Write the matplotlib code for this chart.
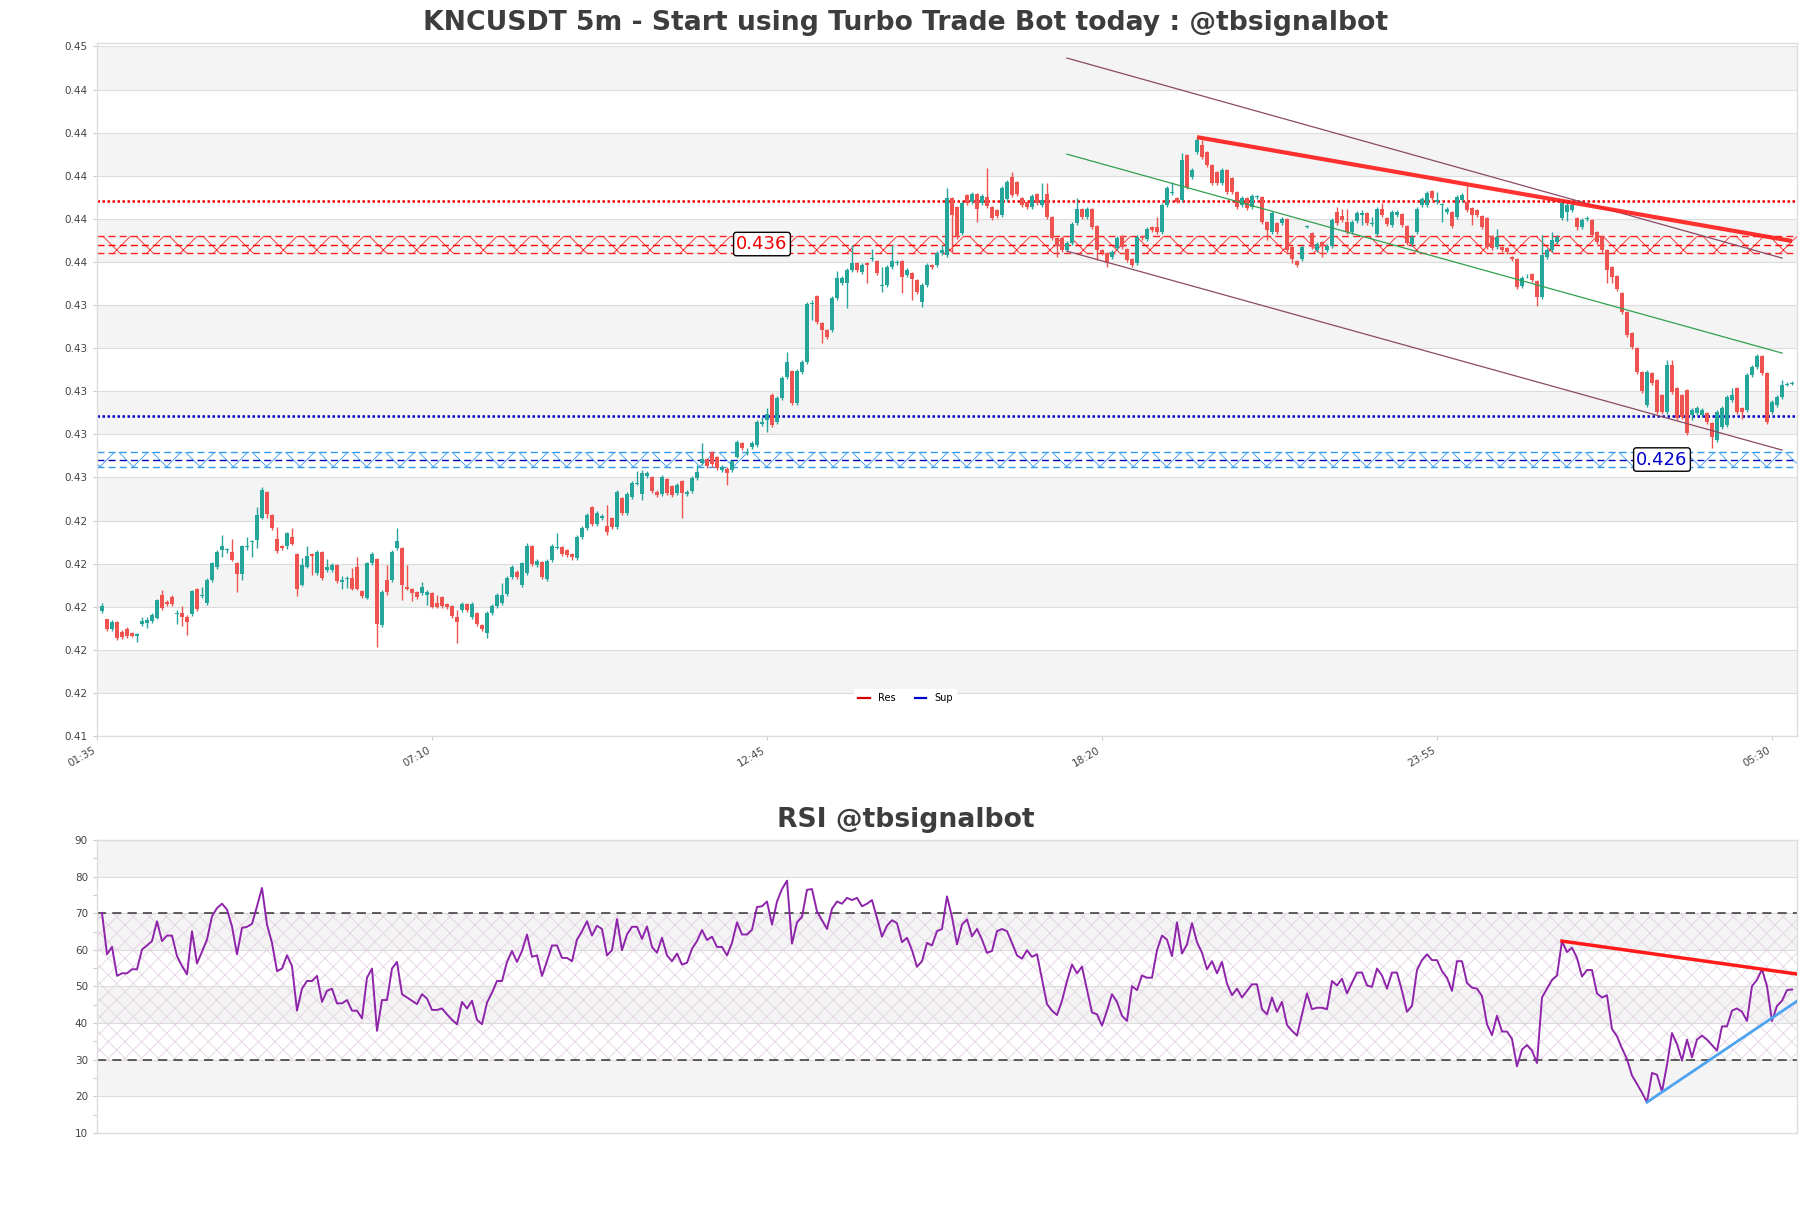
#!/usr/bin/env python3
from __future__ import annotations

import matplotlib

matplotlib.use("Agg")
import matplotlib.pyplot as plt
import numpy as np
from matplotlib.lines import Line2D
from matplotlib.ticker import FormatStrFormatter, MultipleLocator


TITLE = "KNCUSDT 5m - Start using Turbo Trade Bot today : @tbsignalbot"
RSI_TITLE = "RSI @tbsignalbot"

TIME_TICKS = [0, 67, 134, 201, 268, 335]
TIME_LABELS = ["01:35", "07:10", "12:45", "18:20", "23:55", "05:30"]

OPENS = [
    0.41897, 0.41860, 0.41813, 0.41846, 0.41800, 0.41813, 0.41795, 0.41781, 0.41836, 0.41841,
    0.41850, 0.41865, 0.41971, 0.41939, 0.41962, 0.41883, 0.41888, 0.41870, 0.41883, 0.41999,
    0.41966, 0.41934, 0.42041, 0.42102, 0.42180, 0.42180, 0.42171, 0.42120, 0.42068, 0.42194,
    0.42217, 0.42226, 0.42329, 0.42449, 0.42343, 0.42231, 0.42198, 0.42198, 0.42240, 0.42161,
    0.42018, 0.42102, 0.42161, 0.42073, 0.42171, 0.42087, 0.42087, 0.42110, 0.42032, 0.42046,
    0.42050, 0.42102, 0.41990, 0.41957, 0.42120, 0.42138, 0.41832, 0.42041, 0.42041, 0.42189,
    0.42189, 0.42008, 0.41999, 0.41985, 0.41980, 0.41971, 0.41980, 0.41934, 0.41962, 0.41930,
    0.41920, 0.41870, 0.41902, 0.41930, 0.41870, 0.41888, 0.41832, 0.41795, 0.41888, 0.41920,
    0.41934, 0.41976, 0.42055, 0.42078, 0.42018, 0.42073, 0.42198, 0.42110, 0.42125, 0.42046,
    0.42134, 0.42189, 0.42194, 0.42180, 0.42161, 0.42143, 0.42240, 0.42282, 0.42379, 0.42301,
    0.42329, 0.42291, 0.42329, 0.42287, 0.42421, 0.42352, 0.42426, 0.42486, 0.42440, 0.42523,
    0.42519, 0.42449, 0.42440, 0.42509, 0.42477, 0.42444, 0.42500, 0.42440, 0.42454, 0.42514,
    0.42584, 0.42602, 0.42635, 0.42612, 0.42551, 0.42556, 0.42551, 0.42612, 0.42676, 0.42630,
    0.42658, 0.42667, 0.42764, 0.42783, 0.42899, 0.42774, 0.42885, 0.42983, 0.43010, 0.42862,
    0.43006, 0.43052, 0.43321, 0.43359, 0.43233, 0.43201, 0.43201, 0.43349, 0.43419, 0.43419,
    0.43479, 0.43512, 0.43470, 0.43512, 0.43530, 0.43521, 0.43405, 0.43410, 0.43493, 0.43512,
    0.43521, 0.43456, 0.43465, 0.43433, 0.43331, 0.43410, 0.43503, 0.43503, 0.43558, 0.43549,
    0.43813, 0.43772, 0.43651, 0.43827, 0.43795, 0.43831, 0.43790, 0.43818, 0.43772, 0.43758,
    0.43735, 0.43808, 0.43911, 0.43887, 0.43813, 0.43795, 0.43772, 0.43831, 0.43781, 0.43831,
    0.43725, 0.43628, 0.43628, 0.43572, 0.43604, 0.43697, 0.43762, 0.43725, 0.43762, 0.43684,
    0.43572, 0.43558, 0.43539, 0.43581, 0.43637, 0.43577, 0.43530, 0.43512, 0.43637, 0.43623,
    0.43679, 0.43679, 0.43656, 0.43781, 0.43836, 0.43813, 0.43804, 0.44012, 0.43911, 0.44027,
    0.44059, 0.44027, 0.43966, 0.43934, 0.43883, 0.43943, 0.43906, 0.43841, 0.43781, 0.43813,
    0.43772, 0.43818, 0.43818, 0.43702, 0.43656, 0.43697, 0.43697, 0.43716, 0.43586, 0.43521,
    0.43530, 0.43679, 0.43651, 0.43572, 0.43609, 0.43572, 0.43590, 0.43748, 0.43730, 0.43702,
    0.43656, 0.43707, 0.43735, 0.43744, 0.43693, 0.43646, 0.43762, 0.43721, 0.43688, 0.43735,
    0.43740, 0.43684, 0.43600, 0.43656, 0.43781, 0.43781, 0.43845, 0.43795, 0.43781, 0.43748,
    0.43748, 0.43725, 0.43804, 0.43795, 0.43767, 0.43758, 0.43730, 0.43721, 0.43637, 0.43586,
    0.43586, 0.43581, 0.43539, 0.43530, 0.43405, 0.43451, 0.43461, 0.43428, 0.43354, 0.43539,
    0.43572, 0.43609, 0.43721, 0.43748, 0.43758, 0.43721, 0.43679, 0.43716, 0.43711, 0.43656,
    0.43633, 0.43572, 0.43493, 0.43451, 0.43372, 0.43284, 0.43187, 0.43117, 0.43006, 0.42853,
    0.43001, 0.42969, 0.42899, 0.42820, 0.43038, 0.42932, 0.42899, 0.42922, 0.42806, 0.42816,
    0.42806, 0.42816, 0.42769, 0.42690, 0.42751, 0.42760, 0.42876, 0.42932, 0.42839, 0.42830,
    0.42992, 0.43029, 0.43080, 0.43001, 0.42820, 0.42853, 0.42890, 0.42946, 0.42950,
]

CLOSES = [
    0.41920, 0.41813, 0.41846, 0.41772, 0.41776, 0.41781, 0.41781, 0.41790, 0.41850, 0.41855,
    0.41879, 0.41948, 0.41911, 0.41930, 0.41930, 0.41888, 0.41870, 0.41846, 0.41990, 0.41906,
    0.41971, 0.42041, 0.42120, 0.42171, 0.42198, 0.42184, 0.42134, 0.42068, 0.42198, 0.42198,
    0.42222, 0.42343, 0.42458, 0.42348, 0.42282, 0.42175, 0.42189, 0.42259, 0.42208, 0.41999,
    0.42110, 0.42152, 0.42152, 0.42171, 0.42050, 0.42102, 0.42110, 0.42036, 0.42041, 0.42050,
    0.41999, 0.41999, 0.41966, 0.42120, 0.42161, 0.41836, 0.41985, 0.41985, 0.42171, 0.42222,
    0.42018, 0.41999, 0.41980, 0.41962, 0.42008, 0.41985, 0.41915, 0.41915, 0.41920, 0.41915,
    0.41874, 0.41846, 0.41930, 0.41902, 0.41930, 0.41836, 0.41813, 0.41888, 0.41920, 0.41971,
    0.41971, 0.42050, 0.42102, 0.42055, 0.42120, 0.42198, 0.42115, 0.42129, 0.42055, 0.42129,
    0.42198, 0.42194, 0.42161, 0.42157, 0.42148, 0.42240, 0.42282, 0.42343, 0.42301, 0.42352,
    0.42338, 0.42264, 0.42287, 0.42449, 0.42352, 0.42440, 0.42491, 0.42491, 0.42537, 0.42537,
    0.42454, 0.42435, 0.42519, 0.42444, 0.42435, 0.42482, 0.42444, 0.42449, 0.42514, 0.42542,
    0.42602, 0.42570, 0.42579, 0.42561, 0.42565, 0.42537, 0.42593, 0.42681, 0.42653, 0.42635,
    0.42676, 0.42774, 0.42774, 0.42811, 0.42760, 0.42885, 0.42978, 0.43052, 0.42862, 0.43010,
    0.43052, 0.43321, 0.43326, 0.43238, 0.43201, 0.43168, 0.43349, 0.43442, 0.43442, 0.43479,
    0.43512, 0.43479, 0.43503, 0.43503, 0.43535, 0.43465, 0.43410, 0.43493, 0.43521, 0.43516,
    0.43447, 0.43479, 0.43437, 0.43377, 0.43410, 0.43503, 0.43493, 0.43558, 0.43572, 0.43813,
    0.43735, 0.43633, 0.43790, 0.43790, 0.43831, 0.43762, 0.43822, 0.43776, 0.43721, 0.43730,
    0.43859, 0.43887, 0.43827, 0.43831, 0.43781, 0.43772, 0.43822, 0.43790, 0.43804, 0.43725,
    0.43628, 0.43590, 0.43572, 0.43604, 0.43693, 0.43762, 0.43725, 0.43762, 0.43679, 0.43572,
    0.43558, 0.43512, 0.43563, 0.43628, 0.43586, 0.43526, 0.43503, 0.43633, 0.43628, 0.43669,
    0.43665, 0.43656, 0.43781, 0.43860, 0.43841, 0.43795, 0.43989, 0.43864, 0.43943, 0.44082,
    0.44003, 0.43966, 0.43883, 0.43883, 0.43943, 0.43841, 0.43841, 0.43772, 0.43813, 0.43767,
    0.43822, 0.43818, 0.43702, 0.43665, 0.43744, 0.43656, 0.43716, 0.43572, 0.43530, 0.43503,
    0.43586, 0.43684, 0.43586, 0.43600, 0.43590, 0.43590, 0.43711, 0.43697, 0.43711, 0.43656,
    0.43702, 0.43744, 0.43744, 0.43697, 0.43693, 0.43762, 0.43735, 0.43693, 0.43748, 0.43748,
    0.43688, 0.43604, 0.43633, 0.43762, 0.43808, 0.43836, 0.43813, 0.43804, 0.43781, 0.43762,
    0.43684, 0.43818, 0.43827, 0.43758, 0.43735, 0.43735, 0.43679, 0.43586, 0.43581, 0.43633,
    0.43572, 0.43563, 0.43530, 0.43400, 0.43442, 0.43451, 0.43433, 0.43354, 0.43549, 0.43572,
    0.43618, 0.43633, 0.43790, 0.43781, 0.43781, 0.43679, 0.43711, 0.43721, 0.43642, 0.43609,
    0.43572, 0.43479, 0.43447, 0.43391, 0.43284, 0.43178, 0.43122, 0.43006, 0.42918, 0.43006,
    0.42955, 0.42820, 0.42820, 0.43038, 0.42913, 0.42793, 0.42797, 0.42723, 0.42830, 0.42839,
    0.42830, 0.42774, 0.42704, 0.42820, 0.42839, 0.42890, 0.42899, 0.42820, 0.42820, 0.42992,
    0.43029, 0.43080, 0.43001, 0.42774, 0.42867, 0.42890, 0.42946, 0.42950, 0.42955,
]

HIGHS = [
    0.41934, 0.41860, 0.41855, 0.41850, 0.41809, 0.41823, 0.41800, 0.41795, 0.41870, 0.41870,
    0.41888, 0.41952, 0.41994, 0.41948, 0.41971, 0.41902, 0.41920, 0.41879, 0.41994, 0.42004,
    0.42008, 0.42050, 0.42125, 0.42180, 0.42249, 0.42189, 0.42231, 0.42125, 0.42203, 0.42240,
    0.42226, 0.42380, 0.42472, 0.42454, 0.42347, 0.42287, 0.42203, 0.42264, 0.42282, 0.42166,
    0.42143, 0.42198, 0.42166, 0.42180, 0.42175, 0.42138, 0.42120, 0.42115, 0.42060, 0.42060,
    0.42097, 0.42148, 0.41994, 0.42125, 0.42171, 0.42143, 0.41994, 0.42110, 0.42180, 0.42282,
    0.42194, 0.42110, 0.42004, 0.41990, 0.42032, 0.41994, 0.41985, 0.41971, 0.41966, 0.41934,
    0.41925, 0.41902, 0.41939, 0.41934, 0.41939, 0.41893, 0.41836, 0.41897, 0.41930, 0.41980,
    0.42027, 0.42060, 0.42110, 0.42087, 0.42125, 0.42212, 0.42203, 0.42138, 0.42129, 0.42138,
    0.42208, 0.42259, 0.42198, 0.42184, 0.42166, 0.42249, 0.42291, 0.42352, 0.42384, 0.42361,
    0.42347, 0.42389, 0.42333, 0.42458, 0.42426, 0.42449, 0.42500, 0.42547, 0.42551, 0.42547,
    0.42523, 0.42458, 0.42528, 0.42514, 0.42482, 0.42491, 0.42505, 0.42458, 0.42523, 0.42575,
    0.42676, 0.42607, 0.42639, 0.42616, 0.42575, 0.42565, 0.42598, 0.42690, 0.42681, 0.42653,
    0.42686, 0.42783, 0.42797, 0.42839, 0.42908, 0.42894, 0.42987, 0.43099, 0.43015, 0.43020,
    0.43062, 0.43331, 0.43340, 0.43363, 0.43238, 0.43205, 0.43359, 0.43475, 0.43451, 0.43489,
    0.43595, 0.43516, 0.43512, 0.43516, 0.43577, 0.43526, 0.43493, 0.43503, 0.43595, 0.43526,
    0.43526, 0.43489, 0.43470, 0.43437, 0.43419, 0.43512, 0.43507, 0.43567, 0.43595, 0.43859,
    0.43818, 0.43776, 0.43799, 0.43831, 0.43841, 0.43836, 0.43831, 0.43952, 0.43776, 0.43762,
    0.43869, 0.43897, 0.43934, 0.43892, 0.43818, 0.43799, 0.43831, 0.43836, 0.43883, 0.43883,
    0.43730, 0.43633, 0.43633, 0.43614, 0.43702, 0.43813, 0.43767, 0.43772, 0.43767, 0.43688,
    0.43577, 0.43563, 0.43572, 0.43637, 0.43642, 0.43581, 0.43535, 0.43642, 0.43642, 0.43679,
    0.43684, 0.43725, 0.43790, 0.43869, 0.43887, 0.43818, 0.44022, 0.44017, 0.43952, 0.44096,
    0.44082, 0.44031, 0.43971, 0.43938, 0.43952, 0.43948, 0.43911, 0.43845, 0.43822, 0.43818,
    0.43831, 0.43827, 0.43822, 0.43707, 0.43753, 0.43702, 0.43725, 0.43721, 0.43590, 0.43526,
    0.43595, 0.43688, 0.43656, 0.43609, 0.43614, 0.43600, 0.43721, 0.43772, 0.43762, 0.43762,
    0.43711, 0.43753, 0.43758, 0.43748, 0.43725, 0.43772, 0.43790, 0.43725, 0.43758, 0.43758,
    0.43744, 0.43688, 0.43642, 0.43772, 0.43818, 0.43845, 0.43850, 0.43841, 0.43790, 0.43772,
    0.43753, 0.43827, 0.43836, 0.43869, 0.43772, 0.43762, 0.43735, 0.43725, 0.43642, 0.43670,
    0.43590, 0.43586, 0.43544, 0.43535, 0.43451, 0.43461, 0.43465, 0.43433, 0.43642, 0.43581,
    0.43656, 0.43642, 0.43799, 0.43790, 0.43790, 0.43725, 0.43721, 0.43730, 0.43716, 0.43660,
    0.43637, 0.43577, 0.43498, 0.43456, 0.43377, 0.43289, 0.43192, 0.43122, 0.43010, 0.43015,
    0.43006, 0.42973, 0.42904, 0.43062, 0.43062, 0.42936, 0.42904, 0.42927, 0.42839, 0.42848,
    0.42839, 0.42820, 0.42774, 0.42830, 0.42848, 0.42899, 0.42932, 0.42936, 0.42844, 0.43001,
    0.43038, 0.43089, 0.43085, 0.43006, 0.42876, 0.42899, 0.42969, 0.42960, 0.42964,
]

LOWS = [
    0.41888, 0.41804, 0.41804, 0.41762, 0.41767, 0.41772, 0.41776, 0.41753, 0.41827, 0.41818,
    0.41841, 0.41860, 0.41902, 0.41920, 0.41920, 0.41836, 0.41827, 0.41786, 0.41874, 0.41897,
    0.41957, 0.41925, 0.42032, 0.42092, 0.42148, 0.42166, 0.42129, 0.41985, 0.42041, 0.42180,
    0.42148, 0.42189, 0.42324, 0.42329, 0.42273, 0.42166, 0.42180, 0.42184, 0.42203, 0.41966,
    0.42013, 0.42097, 0.42064, 0.42064, 0.42041, 0.42078, 0.42078, 0.42027, 0.41999, 0.42004,
    0.41994, 0.41994, 0.41957, 0.41952, 0.42110, 0.41730, 0.41823, 0.41971, 0.42032, 0.42180,
    0.41948, 0.41994, 0.41943, 0.41952, 0.41971, 0.41925, 0.41911, 0.41911, 0.41911, 0.41906,
    0.41865, 0.41748, 0.41893, 0.41893, 0.41860, 0.41827, 0.41804, 0.41772, 0.41879, 0.41911,
    0.41925, 0.41966, 0.42046, 0.42046, 0.42008, 0.42064, 0.42106, 0.42102, 0.42046, 0.42036,
    0.42125, 0.42184, 0.42152, 0.42148, 0.42134, 0.42134, 0.42231, 0.42273, 0.42291, 0.42291,
    0.42319, 0.42249, 0.42278, 0.42278, 0.42343, 0.42343, 0.42417, 0.42482, 0.42412, 0.42514,
    0.42444, 0.42426, 0.42430, 0.42435, 0.42426, 0.42435, 0.42329, 0.42430, 0.42444, 0.42505,
    0.42575, 0.42561, 0.42565, 0.42551, 0.42542, 0.42482, 0.42542, 0.42607, 0.42644, 0.42621,
    0.42648, 0.42658, 0.42755, 0.42728, 0.42751, 0.42764, 0.42876, 0.42973, 0.42853, 0.42853,
    0.42996, 0.43043, 0.43247, 0.43229, 0.43140, 0.43159, 0.43192, 0.43340, 0.43409, 0.43303,
    0.43470, 0.43470, 0.43461, 0.43419, 0.43521, 0.43456, 0.43377, 0.43400, 0.43484, 0.43503,
    0.43372, 0.43447, 0.43340, 0.43368, 0.43307, 0.43400, 0.43484, 0.43493, 0.43549, 0.43539,
    0.43558, 0.43623, 0.43642, 0.43781, 0.43785, 0.43702, 0.43781, 0.43767, 0.43711, 0.43721,
    0.43725, 0.43799, 0.43818, 0.43822, 0.43772, 0.43762, 0.43762, 0.43781, 0.43772, 0.43716,
    0.43618, 0.43540, 0.43563, 0.43563, 0.43595, 0.43688, 0.43716, 0.43716, 0.43670, 0.43526,
    0.43549, 0.43493, 0.43530, 0.43572, 0.43577, 0.43516, 0.43493, 0.43503, 0.43618, 0.43614,
    0.43656, 0.43646, 0.43646, 0.43772, 0.43827, 0.43790, 0.43795, 0.43855, 0.43901, 0.44017,
    0.43994, 0.43957, 0.43873, 0.43873, 0.43873, 0.43831, 0.43831, 0.43762, 0.43772, 0.43758,
    0.43762, 0.43808, 0.43693, 0.43618, 0.43646, 0.43646, 0.43688, 0.43563, 0.43512, 0.43493,
    0.43521, 0.43674, 0.43577, 0.43563, 0.43539, 0.43563, 0.43581, 0.43688, 0.43702, 0.43646,
    0.43646, 0.43697, 0.43688, 0.43688, 0.43684, 0.43637, 0.43725, 0.43684, 0.43679, 0.43725,
    0.43679, 0.43595, 0.43590, 0.43646, 0.43772, 0.43772, 0.43804, 0.43785, 0.43702, 0.43739,
    0.43674, 0.43716, 0.43795, 0.43748, 0.43688, 0.43725, 0.43670, 0.43577, 0.43572, 0.43577,
    0.43563, 0.43554, 0.43521, 0.43391, 0.43396, 0.43442, 0.43423, 0.43312, 0.43345, 0.43530,
    0.43563, 0.43600, 0.43711, 0.43707, 0.43748, 0.43665, 0.43670, 0.43707, 0.43633, 0.43600,
    0.43563, 0.43419, 0.43419, 0.43382, 0.43275, 0.43168, 0.43113, 0.42996, 0.42908, 0.42844,
    0.42946, 0.42811, 0.42811, 0.42811, 0.42904, 0.42783, 0.42788, 0.42714, 0.42783, 0.42806,
    0.42797, 0.42764, 0.42653, 0.42681, 0.42741, 0.42751, 0.42867, 0.42811, 0.42788, 0.42820,
    0.42983, 0.43020, 0.42992, 0.42764, 0.42811, 0.42844, 0.42881, 0.42941, 0.42946,
]

RSI = [
    70.1, 58.8, 60.8, 52.9, 53.6, 53.6, 54.7, 54.7, 60.1, 61.2,
    62.4, 67.8, 62.4, 63.9, 63.9, 58.3, 55.6, 53.3, 65.1, 56.3,
    59.5, 62.8, 69.2, 71.4, 72.6, 71.0, 66.4, 58.8, 66.0, 66.3,
    67.1, 71.9, 76.9, 66.9, 61.9, 54.2, 54.9, 58.5, 55.6, 43.4,
    49.4, 51.5, 51.5, 52.9, 45.8, 48.8, 49.4, 45.4, 45.4, 46.3,
    43.4, 43.4, 41.3, 52.4, 54.9, 37.9, 46.3, 46.3, 54.9, 56.7,
    47.9, 47.0, 46.1, 45.2, 47.9, 46.7, 43.6, 43.6, 44.0, 42.4,
    40.9, 39.7, 45.8, 44.0, 46.1, 40.9, 39.7, 45.6, 48.3, 51.5,
    51.5, 56.7, 59.7, 56.7, 59.7, 64.2, 58.1, 58.5, 52.9, 56.9,
    61.2, 61.2, 57.8, 57.8, 56.9, 62.8, 65.1, 67.8, 63.9, 66.6,
    65.7, 58.5, 59.9, 68.4, 59.9, 64.2, 66.3, 66.3, 63.0, 66.4,
    60.8, 59.2, 63.3, 58.5, 56.9, 59.0, 56.0, 56.5, 60.3, 62.4,
    65.4, 62.7, 63.6, 60.8, 60.8, 58.5, 61.9, 67.5, 64.2, 64.2,
    65.5, 71.7, 71.9, 73.2, 66.9, 73.2, 76.6, 78.9, 61.7, 67.5,
    69.0, 76.4, 76.6, 70.5, 68.1, 65.7, 71.2, 73.2, 72.6, 74.2,
    73.6, 74.2, 71.9, 72.6, 73.6, 68.7, 63.6, 66.6, 68.1, 67.3,
    62.1, 63.3, 59.9, 55.4, 56.9, 61.9, 61.2, 65.1, 65.7, 74.6,
    69.0, 61.5, 66.9, 68.3, 63.7, 65.7, 62.8, 59.2, 59.7, 65.1,
    65.7, 65.1, 61.9, 58.5, 57.6, 59.9, 58.1, 58.8, 52.0, 45.2,
    43.4, 42.2, 46.1, 51.5, 56.0, 53.6, 55.4, 49.2, 42.9, 42.4,
    39.3, 43.4, 47.9, 45.8, 42.0, 40.6, 50.1, 49.0, 53.0, 52.4,
    52.4, 59.9, 63.9, 62.8, 58.3, 67.5, 59.0, 61.5, 67.3, 62.1,
    59.2, 54.7, 56.9, 53.6, 56.7, 50.8, 47.6, 49.4, 47.0, 48.8,
    50.6, 50.6, 43.8, 42.4, 47.0, 43.1, 45.8, 39.5, 37.9, 36.6,
    42.4, 48.1, 43.8, 44.2, 44.2, 43.8, 51.5, 50.3, 52.1, 48.1,
    51.0, 53.8, 53.8, 50.3, 49.9, 54.9, 53.0, 49.4, 53.8, 53.8,
    48.8, 43.1, 44.7, 54.5, 57.2, 58.8, 57.2, 57.2, 54.2, 52.4,
    48.8, 56.9, 56.9, 51.0, 49.7, 49.4, 47.4, 39.7, 36.7, 42.0,
    37.7, 37.7, 35.7, 28.2, 32.8, 34.0, 32.5, 29.1, 47.0, 49.4,
    51.8, 53.0, 62.4, 59.4, 60.6, 57.8, 52.7, 54.5, 54.5, 48.1,
    47.0, 47.6, 38.4, 36.4, 33.1, 30.2, 25.7, 23.4, 21.0, 18.4,
    26.4, 25.9, 21.3, 28.6, 37.3, 34.3, 29.8, 35.5, 30.7, 35.5,
    36.6, 35.5, 34.0, 32.5, 39.1, 39.1, 43.4, 44.0, 43.1, 40.6,
    50.1, 51.8, 54.7, 50.1, 40.6, 44.7, 46.1, 49.0, 49.2,
]

# levels and zones
RES_LEVEL = 0.4380
SUP_LEVEL = 0.4280
RES_ZONE = (0.43558, 0.43636)
SUP_ZONE = (0.42565, 0.42635)
RES_ZONE_LABEL = ("0.436", 133, 0.4360)
SUP_ZONE_LABEL = ("0.426", 313, 0.4260)

# trend channel and resistance trendline (index, price)
CHANNEL_X = [194, 337]
CHANNEL_UPPER = [0.44463, 0.43535]
CHANNEL_LOWER = [0.43567, 0.42644]
CHANNEL_MID = [0.44017, 0.43094]
RES_TREND_X = [220, 339]
RES_TREND_Y = [0.44096, 0.43614]

# RSI trendlines
RSI_RES_X = [293, 340]
RSI_RES_Y = [62.4, 53.4]
RSI_SUP_X = [310, 340]
RSI_SUP_Y = [18.4, 46.0]

PRICE_MIN = 0.41317
PRICE_MAX = 0.44533
PRICE_STEP = 0.002

UP = "#26a69a"
DOWN = "#ef5350"
TEXT = "#444444"
SPINE = "#dddddd"
BAND = "#f4f4f4"


def style_axes(ax) -> None:
    for s in ax.spines.values():
        s.set_color(SPINE)
        s.set_linewidth(1.0)
    ax.tick_params(axis="both", which="both", colors="#cccccc", labelcolor=TEXT,
                   labelsize=7.5, length=3, width=0.8)


def draw_price(ax) -> None:
    x = np.arange(1, len(CLOSES) + 1)
    o = np.array(OPENS)
    c = np.array(CLOSES)
    h = np.array(HIGHS)
    lo = np.array(LOWS)
    up = c >= o
    colors = np.where(up, UP, DOWN)

    ticks = np.arange(PRICE_MIN, PRICE_MAX, PRICE_STEP)
    for k in range(len(ticks) - 1):
        if k % 2 == 1:
            ax.axhspan(ticks[k], ticks[k + 1], color=BAND, lw=0, zorder=0)
    for t in ticks:
        ax.axhline(t, color="#dcdcdc", lw=0.8, zorder=0.5)

    ax.vlines(x, lo, h, colors=colors, lw=1.0, zorder=3)
    body = np.maximum(np.abs(c - o), 0.00003)
    ax.bar(x, body, bottom=np.minimum(o, c), width=0.78, color=colors,
           lw=0, zorder=4)

    # zones
    for (lo_z, hi_z), hatch_c, mid_c in [(RES_ZONE, "#ff2020", "#ff0000"),
                                         (SUP_ZONE, "#3399ee", "#0000bb")]:
        ax.axhspan(lo_z, hi_z, facecolor="none", edgecolor=hatch_c, hatch="x",
                   lw=0, zorder=2)
        for yv in (lo_z, hi_z):
            ax.axhline(yv, color=hatch_c, lw=1.0, ls=(0, (5, 3)), zorder=2)
        ax.axhline((lo_z + hi_z) / 2, color=mid_c, lw=1.0, ls=(0, (5, 3)), zorder=2)

    ax.axhline(RES_LEVEL, color="#ee0000", lw=1.8, ls=(0, (1, 1)), zorder=2)
    ax.axhline(SUP_LEVEL, color="#0000cc", lw=1.8, ls=(0, (1, 1)), zorder=2)

    ax.plot(CHANNEL_X, CHANNEL_UPPER, color="#8a4a64", lw=0.9, zorder=5)
    ax.plot(CHANNEL_X, CHANNEL_LOWER, color="#8a4a64", lw=0.9, zorder=5)
    ax.plot(CHANNEL_X, CHANNEL_MID, color="#30a050", lw=0.9, zorder=5)
    ax.plot(RES_TREND_X, RES_TREND_Y, color="#ff1a1a", lw=3.0, alpha=0.9,
            zorder=6, solid_capstyle="butt")

    for (txt, xi, yi), col in [(RES_ZONE_LABEL, "#ee0000"), (SUP_ZONE_LABEL, "#0000cc")]:
        ax.text(xi, yi, txt, color=col, fontsize=13, ha="center", va="center",
                zorder=7,
                bbox=dict(boxstyle="round,pad=0.15", fc="white", ec="black", lw=1.0))

    # legend sits at the figure centre, not the axes centre
    handles = [Line2D([], [], color="#dd0000", lw=1.6),
               Line2D([], [], color="#0000cc", lw=1.6)]
    leg = ax.legend(handles, ["Res", "Sup"], loc="lower center",
                    bbox_to_anchor=(0.4756, 0.035), ncol=2, fontsize=7,
                    handlelength=1.2, columnspacing=2.0, frameon=True,
                    facecolor="white", edgecolor="none", framealpha=1.0)
    leg.set_zorder(8)

    ax.set_xlim(0, 340)
    ax.set_ylim(PRICE_MIN, PRICE_MAX)
    ax.set_yticks(ticks)
    ax.yaxis.set_major_formatter(FormatStrFormatter("%.2f"))
    ax.set_xticks(TIME_TICKS)
    ax.set_xticklabels(TIME_LABELS, rotation=30, ha="right")
    style_axes(ax)


def draw_rsi(ax) -> None:
    x = np.arange(1, len(RSI) + 1)
    for lo_b in (20, 40, 60, 80):
        ax.axhspan(lo_b, lo_b + 10, color=BAND, lw=0, zorder=0)
    for t in range(10, 100, 10):
        ax.axhline(t, color="#dcdcdc", lw=0.8, zorder=0.5)
    ax.axhspan(30, 70, facecolor="none", edgecolor="#e4d2e4", hatch="xx", lw=0,
               zorder=0.6)
    ax.axhline(70, color="#333333", lw=1.1, ls=(0, (6, 4)), zorder=2)
    ax.axhline(30, color="#333333", lw=1.1, ls=(0, (6, 4)), zorder=2)

    ax.plot(x, RSI, color="#8e24aa", lw=1.4, zorder=3)
    ax.plot(RSI_RES_X, RSI_RES_Y, color="#ff1a1a", lw=2.5, zorder=4)
    ax.plot(RSI_SUP_X, RSI_SUP_Y, color="#4da3ee", lw=2.0, zorder=4)

    ax.set_xlim(0, 340)
    ax.set_ylim(10, 90)
    ax.set_yticks(range(10, 100, 10))
    ax.yaxis.set_minor_locator(MultipleLocator(5))
    ax.set_xticks([])
    style_axes(ax)


def main() -> int:
    plt.rcParams["hatch.linewidth"] = 0.6
    fig = plt.figure(figsize=(18.11, 12.08), dpi=100)
    ax = fig.add_axes([0.05356, 0.39073, 0.9387, 0.57368])
    rax = fig.add_axes([0.05356, 0.06209, 0.9387, 0.24255])

    draw_price(ax)
    draw_rsi(rax)

    fig.text(0.5, 0.981, TITLE, ha="center", va="center", fontsize=19.2,
             fontweight="bold", color="#3d3d3d")
    fig.text(0.5, 0.3212, RSI_TITLE, ha="center", va="center", fontsize=19.2,
             fontweight="bold", color="#3d3d3d")

    fig.savefig("out.png", dpi=100, facecolor="white")
    plt.close(fig)
    return 0


if __name__ == "__main__":
    raise SystemExit(main())
